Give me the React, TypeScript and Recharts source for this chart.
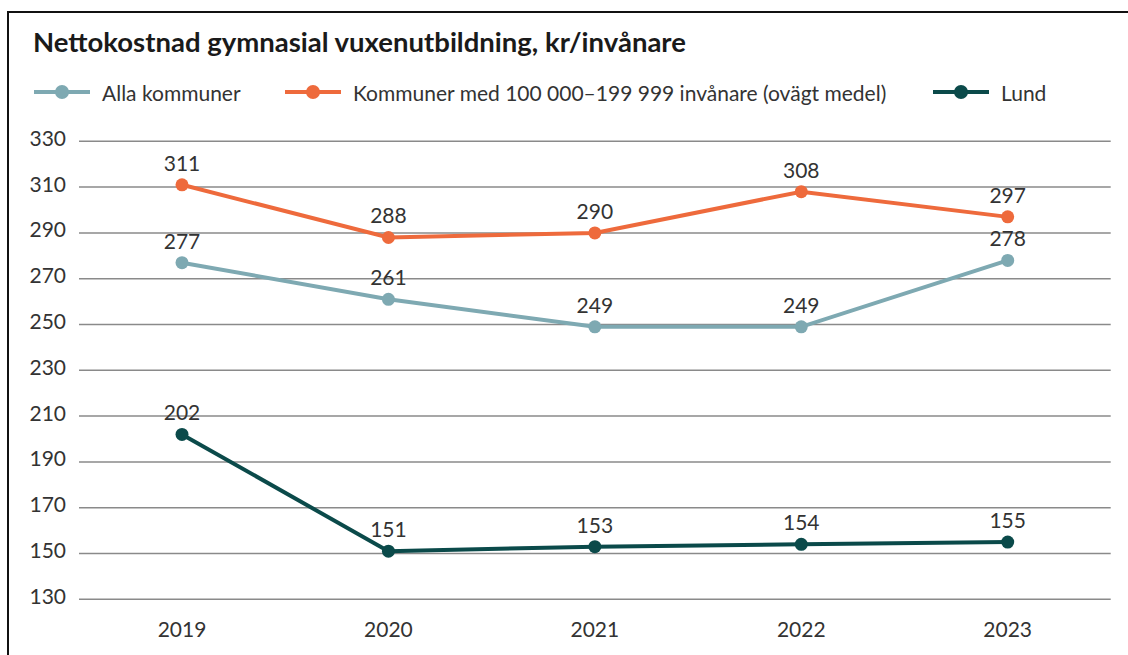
import React from 'react';
import { LineChart, Line, XAxis, YAxis, CartesianGrid, LabelList } from 'recharts';

const years = ['2019', '2020', '2021', '2022', '2023'];
const allaKommuner = [277, 261, 249, 249, 278];
const kommunerMed = [311, 288, 290, 308, 297];
const lund = [202, 151, 153, 154, 155];
const yTicks = [130, 150, 170, 190, 210, 230, 250, 270, 290, 310, 330];

const seriesNames = {
  alla: 'Alla kommuner',
  med: 'Kommuner med 100 000–199 999 invånare (ovägt medel)',
  lund: 'Lund',
};
const titleText = 'Nettokostnad gymnasial vuxenutbildning, kr/invånare';

const COLORS = { alla: '#7EA9B2', med: '#EE6A3C', lund: '#0B4A4A' };
const FONT = 'Lato, "Open Sans", sans-serif';
const TEXT = '#333333';

const data = years.map((year, i) => ({
  year,
  alla: allaKommuner[i],
  med: kommunerMed[i],
  lund: lund[i],
}));

const renderLabel = (props: any) => {
  const { x, y, value } = props;
  return (
    <text x={x} y={y - 14} textAnchor="middle" fontFamily={FONT} fontSize={21} fill={TEXT}>
      {value}
    </text>
  );
};

const YTick = (props: any) => {
  const { x, y, payload } = props;
  return (
    <text x={x} y={y + 4.5} textAnchor="end" fontFamily={FONT} fontSize={21} fill={TEXT}>
      {payload.value}
    </text>
  );
};

const XTick = (props: any) => {
  const { x, y, payload } = props;
  return (
    <text x={x} y={y} dy={38} textAnchor="middle" fontFamily={FONT} fontSize={21} fill={TEXT}>
      {payload.value}
    </text>
  );
};

const LegendItem = ({ left, color, label }: { left: number; color: string; label: string }) => (
  <div style={{ position: 'absolute', left, top: 78, height: 28, display: 'flex', alignItems: 'center' }}>
    <svg width={56} height={28} style={{ display: 'block' }}>
      <line x1={0} y1={14} x2={56} y2={14} stroke={color} strokeWidth={4} />
      <circle cx={28} cy={14} r={7} fill={color} />
    </svg>
    <span style={{ marginLeft: 12, fontFamily: FONT, fontSize: 21, color: TEXT, whiteSpace: 'nowrap' }}>{label}</span>
  </div>
);

export default function App() {
  return (
    <div style={{ position: 'absolute', left: 0, top: 0, width: 1128, height: 655, overflow: 'hidden', background: '#fff' }}>
      <div style={{ position: 'absolute', left: 7, top: 11, width: 1200, height: 700, borderTop: '2px solid #111', borderLeft: '2px solid #111' }} />
      <div style={{ position: 'absolute', left: 33, top: 25, fontFamily: FONT, fontWeight: 700, fontSize: 27.5, color: '#1a1a1a', whiteSpace: 'nowrap' }}>
        {titleText}
      </div>
      <LegendItem left={34} color={COLORS.alla} label={seriesNames.alla} />
      <LegendItem left={285} color={COLORS.med} label={seriesNames.med} />
      <LegendItem left={933} color={COLORS.lund} label={seriesNames.lund} />
      <div style={{ position: 'absolute', left: 0, top: 0 }}>
        <LineChart width={1128} height={655} data={data} margin={{ top: 141.3, right: 17.3, bottom: 0, left: 19 }}>
          <CartesianGrid horizontal vertical={false} stroke="#8a8a8a" strokeWidth={1.5} />
          <XAxis dataKey="year" axisLine={false} tickLine={false} tickSize={0} tickMargin={0} height={55.7} tick={<XTick />} interval={0} padding={{ left: 103, right: 103 }} />
          <YAxis domain={[130, 330]} ticks={yTicks} axisLine={false} tickLine={false} tickSize={0} tickMargin={13} width={60} tick={<YTick />} interval={0} />
          <Line dataKey="alla" name={seriesNames.alla} stroke={COLORS.alla} strokeWidth={4} dot={{ r: 6.5, fill: COLORS.alla, stroke: COLORS.alla, strokeWidth: 0 }} activeDot={false} isAnimationActive={false}>
            <LabelList dataKey="alla" content={renderLabel} />
          </Line>
          <Line dataKey="med" name={seriesNames.med} stroke={COLORS.med} strokeWidth={4} dot={{ r: 6.5, fill: COLORS.med, stroke: COLORS.med, strokeWidth: 0 }} activeDot={false} isAnimationActive={false}>
            <LabelList dataKey="med" content={renderLabel} />
          </Line>
          <Line dataKey="lund" name={seriesNames.lund} stroke={COLORS.lund} strokeWidth={4} dot={{ r: 6.5, fill: COLORS.lund, stroke: COLORS.lund, strokeWidth: 0 }} activeDot={false} isAnimationActive={false}>
            <LabelList dataKey="lund" content={renderLabel} />
          </Line>
        </LineChart>
      </div>
    </div>
  );
}
